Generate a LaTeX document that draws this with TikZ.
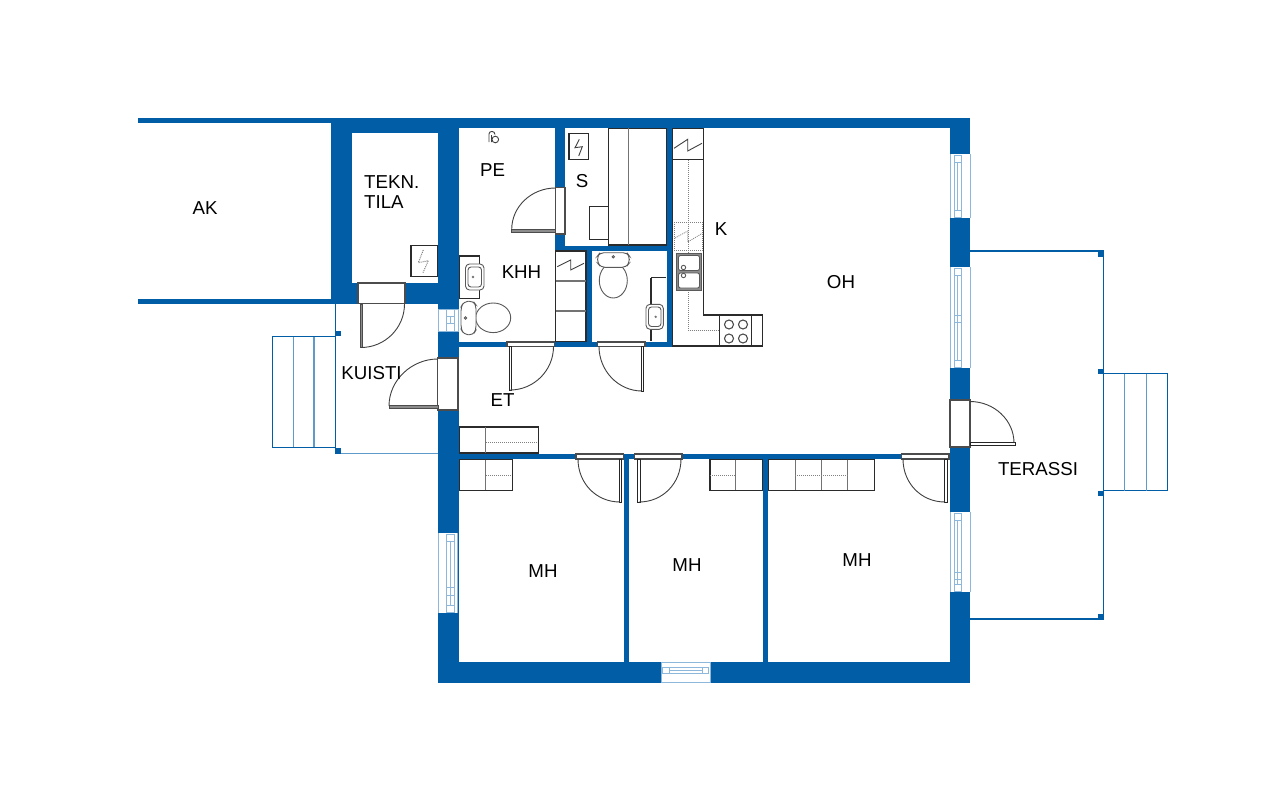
\documentclass[tikz,border=0pt]{standalone}
\usepackage{xcolor}
\usepackage{fontspec}
\setmainfont{Liberation Sans}
\definecolor{wallblue}{HTML}{005DA6}
\definecolor{winblue}{HTML}{8DB8DB}
\definecolor{stepblue}{HTML}{5E9BCB}
\definecolor{inkgrey}{HTML}{2B2B2B}
\tikzstyle{outline} = [draw=wallblue, line width=1.2pt]
\tikzstyle{thinstep} = [draw=stepblue, line width=1.2pt]
\tikzstyle{post} = [fill=wallblue]
\tikzstyle{winline} = [draw=winblue, line width=1pt]
\tikzstyle{furniture} = [draw=inkgrey, line width=1.1pt]
\tikzstyle{softline} = [draw=black!55, line width=1.1pt]
\tikzstyle{doorbox} = [draw=black!70, fill=white, line width=1.2pt]
\tikzstyle{doorarc} = [draw=black!75, line width=0.9pt]
\tikzstyle{panelwhite} = [draw=black!85, fill=white, line width=0.8pt]
\tikzstyle{panelgrey} = [draw=black!70, fill=black!45, line width=0.5pt]
\tikzstyle{hidden} = [draw=black!50, line width=1pt, densely dotted]
\tikzstyle{zigzag} = [draw=black!75, line width=0.9pt]
\tikzstyle{fixture} = [draw=black!65, fill=white, line width=0.9pt]
\tikzstyle{roomlabel} = [inner sep=0pt, font=\fontsize{18.7}{20}\selectfont]

\begin{document}
\begin{tikzpicture}[x=1pt,y=-1pt]
    \useasboundingbox (0,0) rectangle (1280,795);
    \fill[white] (0,0) rectangle (1280,795);

    % walls
    \foreach \xa/\ya/\xb/\yb in {138/118/331/123, 331/118/970/128, 352/128/437.5/133, 331/118/352/304,
        138/299/331/304, 331/283/437.5/304, 437.5/118/458.5/683, 555/128/565/251, 555/246/672/251,
        666.5/128/672.5/346, 586/251/592/346, 458.5/341.5/672.5/346.5, 458.5/454/950/459,
        624/454/629/662, 763/454/768/662, 437.5/662/970/683, 950/118/970/683}
        \fill[wallblue] (\xa,\ya) rectangle (\xb,\yb);

    % windows
    \foreach \xl/\xi/\ya/\yb in {950/954/154/218, 950/954/267/368, 950/954/512/592, 437.5/446.7/533/613}{
        \fill[white] (\xl,\ya) rectangle (\xl+20.5,\yb);
        \draw[winline] (\xl+0.5,\ya) -- (\xl+0.5,\yb) (\xl+20,\ya) -- (\xl+20,\yb);
        \draw[winline] (\xi,\ya+1) rectangle (\xi+7.5,\yb-1);
        \draw[winline] (\xi,\ya+8) -- (\xi+7.5,\ya+8) (\xi,\yb-8) -- (\xi+7.5,\yb-8);
        \draw[winline] (\xi+3.8,\ya+8) -- (\xi+3.8,\yb-8);
    }
    \draw[winline] (954,315) rectangle (961.5,322.5);
    \draw[winline] (954,572) -- (961.5,572) (954,579) -- (961.5,579);
    \draw[winline] (446.7,587) -- (454.2,587) (446.7,595) -- (454.2,595);
    \fill[white] (437.5,309) rectangle (458,331);
    \draw[winline] (438,309) rectangle (458,331);
    \draw[winline] (446.7,309) rectangle (454.2,331);
    \draw[winline] (446.7,316.5) rectangle (454.2,323.5) (450.4,316.5) -- (450.4,323.5);
    \fill[white] (661,662) rectangle (710,682.5);
    \draw[winline] (661,662.5) rectangle (710,682);
    \draw[winline] (662.5,667) rectangle (708.5,673);
    \draw[winline] (669.5,667) -- (669.5,673) (702,667) -- (702,673) (669.5,670) -- (702,670);

    % kuisti and terassi
    \draw[outline] (335.7,304) -- (335.7,454);
    \draw[thinstep] (341,453.8) -- (437.5,453.8);
    \draw[outline] (272.5,336.7) rectangle (335.7,447.3);
    \draw[thinstep] (293.7,336.7) -- (293.7,447.3) (314,336.7) -- (314,447.3);
    \fill[post] (335.7,330.7) rectangle (341.3,336);
    \fill[post] (335.7,448.3) rectangle (341.3,454);
    \draw[outline] (970,251) -- (1103.3,251) -- (1103.3,619) -- (970,619);
    \draw[outline] (1103.3,373.7) rectangle (1167.5,490.5);
    \draw[thinstep] (1124.7,373.7) -- (1124.7,490.5) (1146.3,373.7) -- (1146.3,490.5);
    \foreach \ya in {251.5, 368.5, 491, 614}
        \fill[post] (1098.3,\ya) rectangle (1103.5,\ya+5);

    % doors
    \draw[doorbox] (358,283) rectangle (405,303.5);
    \draw[panelgrey] (360,304) rectangle (362.3,347.5);
    \draw[doorarc] (404.5,304) .. controls +(0,24) and +(24,0) .. (361,347.5);
    \draw[doorbox] (437.8,358) rectangle (458,410);
    \draw[panelgrey] (389,405.7) rectangle (437.8,408.3);
    \draw[doorarc] (437.8,359) .. controls +(-26,0) and +(0,-26) .. (389,406);
    \draw[doorbox] (555.5,187.3) rectangle (565,234);
    \draw[panelgrey] (511.7,229.3) rectangle (555.5,232.7);
    \draw[doorarc] (555.5,188) .. controls +(-24,0) and +(0,-23) .. (511.7,229.5);
    \draw[doorbox] (507,342) rectangle (554.7,346.5);
    \draw[panelwhite] (509.5,346.5) rectangle (511.7,390);
    \draw[doorarc] (553.5,346.5) .. controls +(0,24) and +(24,0) .. (510,390);
    \draw[doorbox] (597.7,342) rectangle (645,346.5);
    \draw[panelwhite] (641,346.5) rectangle (643.3,391);
    \draw[doorarc] (599,346.5) .. controls +(0,24) and +(-24,0) .. (642,391);
    \draw[doorbox] (576,454) rectangle (623.7,459);
    \draw[panelwhite] (619,459) rectangle (621.7,502);
    \draw[doorarc] (578,459) .. controls +(0,24) and +(-24,0) .. (620,502);
    \draw[doorbox] (634.7,454) rectangle (682,459);
    \draw[panelwhite] (637.3,459) rectangle (640,502);
    \draw[doorarc] (681,459) .. controls +(0,24) and +(24,0) .. (639,502);
    \draw[doorbox] (901.7,454) rectangle (949,459);
    \draw[panelwhite] (944.3,459) rectangle (947,502);
    \draw[doorarc] (903,459) .. controls +(0,24) and +(-24,0) .. (945,502);
    \draw[doorbox] (950,400) rectangle (970,447);
    \draw[panelwhite] (970,442.7) rectangle (1015,445);
    \draw[doorarc] (970,401.5) .. controls +(24,0) and +(0,-23) .. (1014,443);

    % closets
    \draw[furniture] (459.3,427) rectangle (538.3,453);
    \draw[softline] (485.7,427) -- (485.7,453);
    \draw[hidden] (486,442.5) -- (538,442.5);
    \draw[furniture] (459.3,459.5) rectangle (512.5,490.3);
    \draw[softline] (485.7,459.5) -- (485.7,490.3);
    \draw[hidden] (486,475) -- (512,475);
    \draw[furniture] (710,459.5) rectangle (762.3,490.3);
    \draw[softline] (735.5,459.5) -- (735.5,490.3);
    \draw[hidden] (710,475) -- (735,475);
    \draw[furniture] (768.7,459.5) rectangle (874.3,490.3);
    \foreach \xa in {795.3, 821.7, 847.7}
        \draw[softline] (\xa,459.5) -- (\xa,490.3);
    \draw[hidden] (795.3,475) -- (847.7,475);
    \draw[furniture, fill=white] (608.7,128.3) rectangle (666.3,245);
    \draw[softline] (628.7,128.3) -- (628.7,245);
    \draw[furniture] (589.3,206.3) rectangle (608.7,239.3);
    \draw[furniture] (569,133.7) rectangle (588.3,159.3);
    \draw[zigzag] (579.3,139.3) -- (575,147.7) -- (582.3,146.7) -- (578.7,156);
    \draw[furniture, fill=white] (555.5,251) rectangle (586,341.3);
    \draw[softline] (555.5,281) -- (586,281) (555.5,311) -- (586,311);
    \draw[zigzag] (557.3,266.7) -- (570.7,260) -- (570.7,270) -- (584,263.3);
    \draw[furniture] (411,245.7) rectangle (437.3,276.7);
    \draw[hidden] (423.3,250) -- (418.3,262.7) -- (428.3,260.7) -- (422.7,273.3);

    % kitchen
    \draw[furniture] (672.7,128.3) -- (703.3,128.3) -- (703.3,315) -- (762.3,315) -- (762.3,346) -- (672.7,346) -- cycle;
    \draw[furniture] (672.7,159.3) -- (703.3,159.3);
    \draw[furniture] (719.5,315) -- (719.5,346) (751.5,315) -- (751.5,346);
    \draw[zigzag] (674,148.3) -- (687.7,139.3) -- (687.7,151) -- (702,143.3);
    \draw[hidden] (688,160) -- (688,330.3) -- (718,330.3);
    \draw[hidden, line width=0.6pt] (674.3,222.3) rectangle (702,250.7);
    \draw[hidden, line width=0.8pt] (675,238) -- (687.7,231) -- (687.7,242) -- (702,233.5);
    \draw[fixture, fill=black!45, line width=1pt] (676,253.3) rectangle (701.7,290);
    \draw[fixture, rounded corners=2pt] (678.5,255.5) rectangle (699.5,270.5);
    \draw[fixture, rounded corners=2pt] (678.5,273) rectangle (699.5,288);
    \draw[fixture] (683.5,267.5) circle (2.2);
    \draw[fixture] (683.5,275.5) circle (2.2);
    \foreach \xa in {729, 743}
        \foreach \ya in {324.5, 338.5}
            \draw[furniture, draw=black!70] (\xa,\ya) circle (4.5);

    % sanitary
    \draw[furniture] (459.3,256) rectangle (479.7,298.7);
    \draw[fixture, rounded corners=4pt] (465.5,264) rectangle (484,290);
    \draw[fixture, rounded corners=3pt] (468,267) rectangle (481.5,287);
    \fill[black!55] (473,277) circle (1.3);
    \draw[fixture] (493.2,317.8) ellipse (17.5 and 14.8);
    \draw[fixture, rounded corners=4pt] (461,307) -- (464,301.5) -- (473,301) -- (476,305) -- (476,330) -- (473,335) -- (464,334.5) -- (461,329) -- cycle;
    \draw[fixture] (465.5,318) circle (1.3);
    \draw[furniture] (651,277.7) -- (666.3,277.7) (651,277.7) -- (651,340.7);
    \draw[fixture, rounded corners=4pt] (646,304.3) rectangle (663.3,329.3);
    \draw[fixture, rounded corners=3pt] (648.5,307) rectangle (661,326.5);
    \fill[black!55] (655.7,316.8) circle (1.3);
    \draw[fixture] (613.3,280.5) ellipse (14 and 17.5);
    \draw[fixture, rounded corners=4pt] (597.5,256) -- (600,252.7) -- (627,252.7) -- (629.3,256) -- (629.3,263) -- (626,267.3) -- (601,267.3) -- (597.5,263) -- cycle;
    \draw[fixture] (613.3,256.8) circle (1.2);
    \draw[zigzag] (489,142) -- (489,134) .. controls (489,130.5) and (495,130.5) .. (495,134.5) (491.5,135) -- (491.5,142);
    \draw[zigzag] (495.3,139.5) circle (3.3);

    % room names
    \node[roomlabel] (ak) at (205,208) {AK};
    \node[roomlabel, align=left, anchor=west] (tekntila) at (364,192) {TEKN.\\TILA};
    \node[roomlabel] (pe) at (492.5,170.5) {PE};
    \node[roomlabel] (khh) at (521.5,272) {KHH};
    \node[roomlabel] (s) at (582,181) {S};
    \node[roomlabel] (k) at (721,229) {K};
    \node[roomlabel] (oh) at (841,282) {OH};
    \node[roomlabel] (kuisti) at (371.5,373) {KUISTI};
    \node[roomlabel] (et) at (502.5,400) {ET};
    \node[roomlabel] (terassi) at (1038,469) {TERASSI};
    \node[roomlabel] (mha) at (543,571) {MH};
    \node[roomlabel] (mhb) at (687,565.5) {MH};
    \node[roomlabel] (mhc) at (857,560) {MH};
\end{tikzpicture}
\end{document}
